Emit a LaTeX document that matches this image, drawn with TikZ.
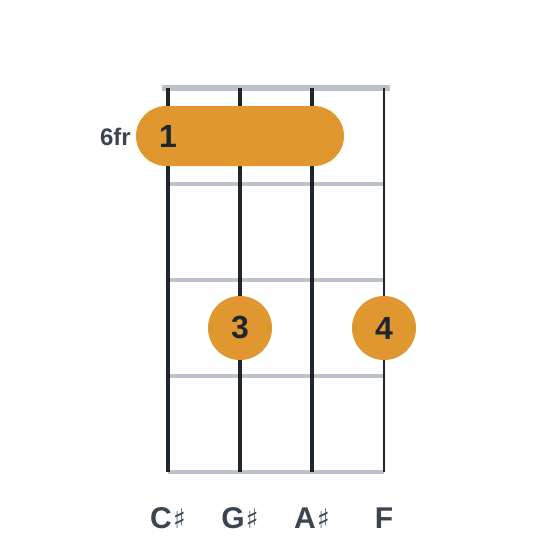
\documentclass[tikz,border=0pt]{standalone}
\usepackage{fontspec}
\setmainfont{Liberation Sans}
\newfontfamily\symfont{DejaVu Sans}
\definecolor{fingc}{HTML}{E19730}
\definecolor{fretc}{HTML}{BCC1C8}
\definecolor{strc}{HTML}{1E252D}
\definecolor{labc}{HTML}{3B4451}
\newcommand{\shp}{{\symfont\mdseries\fontsize{27}{27}\selectfont ♯}}
\tikzset{
  fretline/.style={draw=fretc, line width=3.5pt},
  strline/.style={draw=strc},
  finger/.style={circle, fill=fingc, minimum size=64pt, inner sep=0pt, text=strc, font=\bfseries\fontsize{32}{32}\selectfont},
  strlabel/.style={text=labc, font=\bfseries\fontsize{30}{30}\selectfont},
}
\begin{document}
\begin{tikzpicture}[x=1pt,y=-1pt]
\useasboundingbox (0,0) rectangle (560,560);
% frets
\coordinate (n1) at (162,88); \coordinate (n2) at (390,88);
\draw[draw=fretc, line width=5.5pt] (n1) -- (n2);
\foreach \y [count=\i] in {184,280,376,472}{
  \coordinate (fa\i) at (168,\y); \coordinate (fb\i) at (384,\y);
  \draw[fretline] (fa\i) -- (fb\i);
}
% strings
\foreach \x/\w [count=\i] in {168/4.6,240/4,312/3.4,384/2.8}{
  \coordinate (sa\i) at (\x,88); \coordinate (sb\i) at (\x,472);
  \draw[strline, line width=\w pt] (sa\i) -- (sb\i);
}
% barre
\fill[fingc, rounded corners=30pt] (136,106) rectangle (344,166);
\node[text=strc, font=\bfseries\fontsize{32}{32}\selectfont] (b1) at (168,136) {1};
\node[anchor=east, text=labc, font=\bfseries\fontsize{24}{24}\selectfont, inner sep=0pt] (fr) at (131,137) {6fr};
% fingers
\node[finger] (f3) at (240,328) {3};
\node[finger] (f4) at (384,328) {4};
% labels
\node[strlabel] (l1) at (168,518) {C\hspace{1pt}\shp};
\node[strlabel] (l2) at (240,518) {G\hspace{1pt}\shp};
\node[strlabel] (l3) at (312,518) {A\hspace{1pt}\shp};
\node[strlabel] (l4) at (384,518) {F};
\end{tikzpicture}
\end{document}
